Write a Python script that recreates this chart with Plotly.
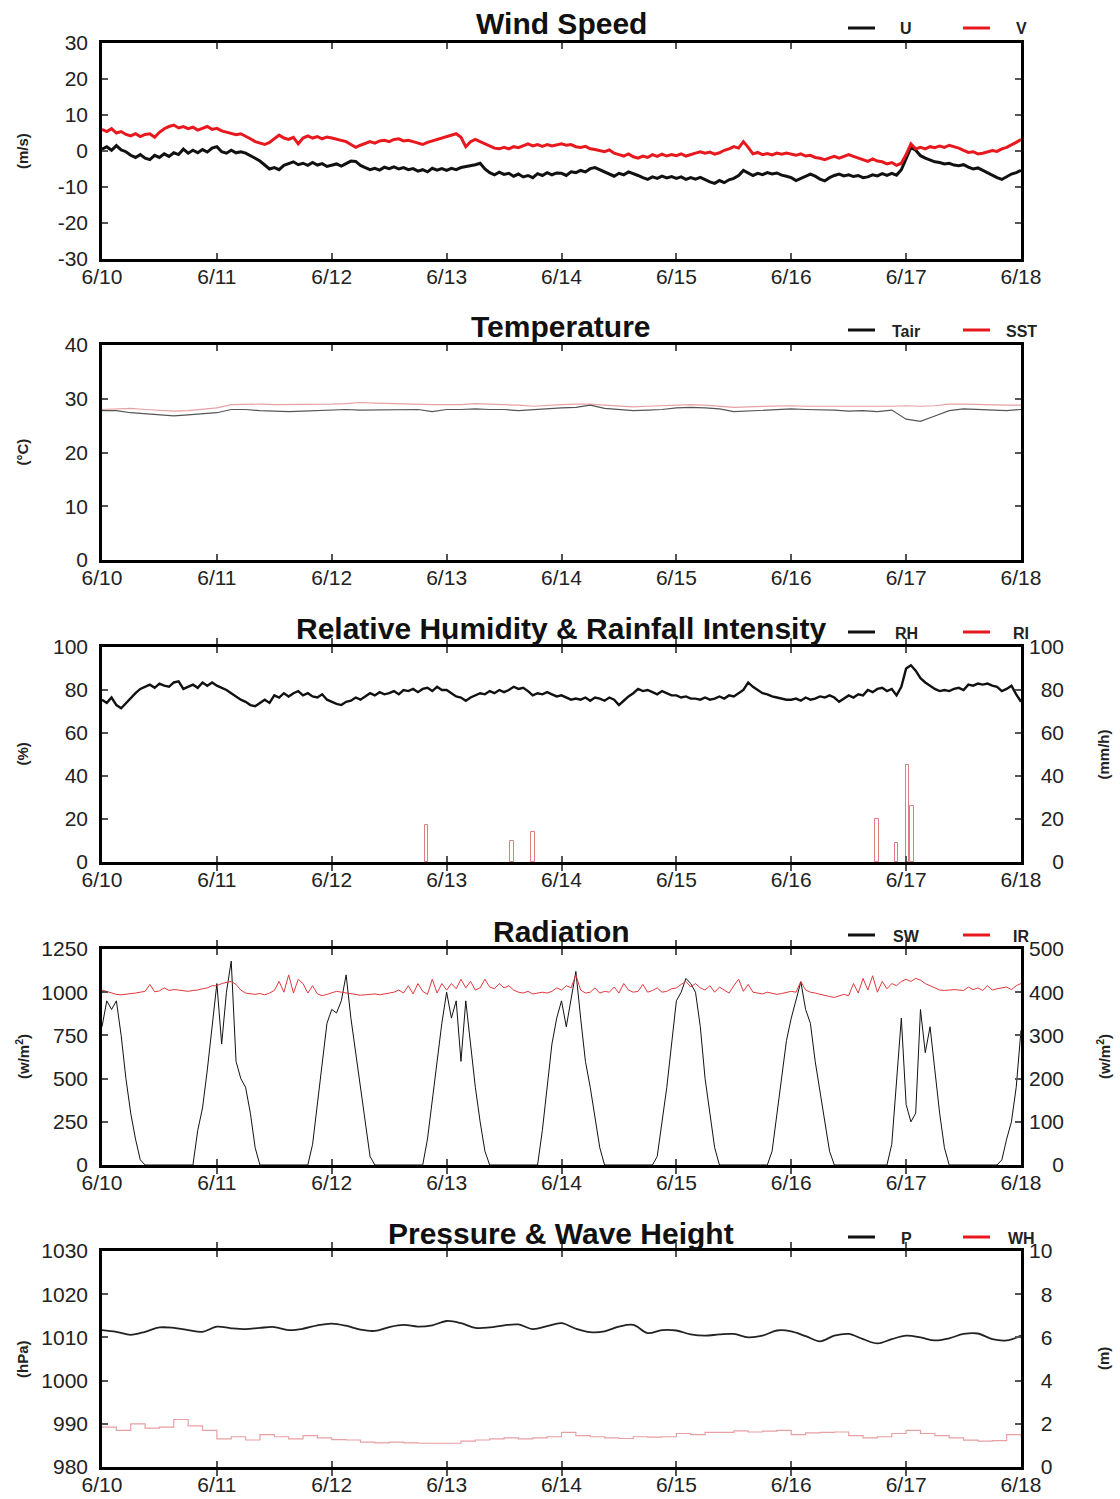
import plotly.graph_objects as go

# ---------------- data (hours since 6/10 00:00) ----------------
hours = list(range(0, 193))          # hourly series
hours3 = list(range(0, 193, 3))      # 3-hourly series
day_ticks = [0, 24, 48, 72, 96, 120, 144, 168, 192]
day_labels = ["6/10", "6/11", "6/12", "6/13", "6/14", "6/15", "6/16", "6/17", "6/18"]

U = [0.5, 1.2, 0.2, 1.5, 0.3, -0.2, -1.2, -1.8, -1.0, -2.0, -2.4, -1.2, -1.8, -0.8, -1.5, -0.5, -1.0, 0.5, -0.6, 0.2, -0.5, 0.4, -0.3, 0.8,
     1.2, -0.2, -0.6, 0.2, -0.5, -0.2, -0.6, -1.2, -2.0, -2.8, -4.0, -5.0, -4.6, -5.2, -4.0, -3.5, -3.0, -3.8, -3.4, -4.0, -3.2, -3.9, -3.5, -4.3,
     -4.0, -3.6, -4.2, -3.4, -2.8, -2.9, -4.0, -4.6, -5.2, -4.8, -5.3, -4.5, -4.9, -4.4, -5.0, -4.6, -5.2, -4.9, -5.6, -5.2, -5.8, -4.8, -5.3, -4.9,
     -5.4, -4.8, -5.2, -4.6, -4.4, -4.0, -3.8, -3.4, -5.0, -6.0, -6.6, -5.9, -6.5, -6.2, -7.0, -6.4, -7.2, -6.8, -7.4, -6.3, -6.8, -6.0, -6.6, -6.1,
     -6.2, -6.8, -5.8, -6.0, -5.4, -5.8, -4.9, -4.6, -5.2, -5.8, -6.4, -7.0, -6.2, -6.6, -5.8, -6.2, -6.8, -7.4, -7.9, -7.2, -7.6, -7.0, -7.5, -7.1,
     -7.6, -7.2, -7.9, -7.4, -7.8, -7.3, -8.0, -8.6, -9.0, -8.2, -8.8, -8.0, -7.6, -6.8, -5.4, -6.2, -6.8, -6.2, -6.6, -6.0, -6.4, -6.1, -6.7, -7.0,
     -7.4, -8.2, -7.6, -6.8, -6.4, -7.0, -7.8, -8.3, -7.4, -6.8, -6.4, -6.9, -6.6, -7.1, -6.8, -7.4, -7.2, -6.6, -6.9, -6.3, -6.8, -6.2, -6.7, -5.2,
     -2.0, 1.0, 0.2, -1.3, -2.0, -2.6, -3.0, -3.2, -3.6, -3.4, -3.9, -4.1, -3.8, -4.5, -5.0, -4.7, -5.4, -6.2, -6.8, -7.4, -7.9, -7.2, -6.4, -6.0, -5.4]

V = [6.0, 5.4, 6.2, 5.0, 5.4, 4.6, 4.2, 4.8, 4.0, 4.6, 4.8, 3.8, 5.2, 6.2, 6.8, 7.2, 6.4, 6.8, 6.2, 6.6, 5.8, 6.4, 6.8, 6.0,
     6.3, 5.6, 5.2, 4.8, 4.5, 4.8, 4.2, 3.4, 2.6, 2.2, 1.8, 2.4, 3.4, 4.4, 3.6, 3.2, 3.8, 2.0, 3.6, 4.2, 3.6, 4.0, 3.4, 3.9,
     3.6, 3.2, 3.0, 2.6, 1.8, 1.0, 1.6, 2.2, 2.6, 2.2, 2.8, 3.0, 2.6, 3.2, 3.4, 2.8, 3.0, 2.6, 2.2, 1.8, 2.4, 2.8, 3.2, 3.6,
     3.8, 4.4, 4.8, 3.8, 1.2, 2.6, 3.2, 2.6, 2.0, 1.4, 0.8, 0.6, 1.0, 0.6, 1.2, 0.9, 1.5, 2.0, 1.4, 1.8, 1.3, 1.8, 1.4, 1.7,
     2.0, 1.6, 1.8, 1.2, 1.0, 1.3, 0.6, 0.4, 0.2, -0.2, 0.3, -0.6, -1.0, -1.4, -0.8, -1.6, -2.0, -1.4, -1.8, -1.0, -1.5, -0.9, -1.4, -1.0,
     -1.3, -0.8, -1.4, -0.9, -0.6, -0.2, -0.6, -0.3, -0.9, -0.5, 0.2, 0.6, 1.2, 0.8, 2.6, 1.0, -0.8, -0.4, -1.0, -0.7, -1.1, -0.6, -0.9, -0.6,
     -0.9, -1.2, -0.8, -1.4, -1.2, -1.8, -2.0, -2.4, -1.9, -1.5, -2.0, -1.4, -1.0, -1.5, -2.0, -2.6, -2.9, -2.2, -2.8, -3.0, -3.6, -3.2, -4.0, -3.4,
     -1.0, 2.0, 0.6, 1.0, 0.6, 1.2, 0.9, 1.4, 1.0, 1.6, 1.3, 0.8, 0.2, -0.4, -0.2, -0.8, -0.6, -0.2, 0.1, -0.1, 0.6, 1.0, 1.6, 2.4, 3.2]

Tair = [27.8, 27.8, 27.4, 27.2, 27.0, 26.8, 27.0, 27.2, 27.4, 28.0, 28.0, 27.8, 27.7, 27.6, 27.7, 27.8,
        27.9, 28.0, 27.9, 27.9, 27.9, 28.0, 28.0, 27.6, 28.0, 28.0, 28.1, 28.0, 28.0, 27.8, 28.0, 28.2,
        28.3, 28.4, 28.8, 28.2, 28.0, 27.8, 27.9, 28.0, 28.3, 28.4, 28.3, 28.1, 27.6, 27.7, 27.9, 28.0,
        28.1, 28.0, 28.0, 27.9, 27.7, 27.8, 27.6, 27.9, 26.2, 25.8, 26.8, 27.8, 28.1, 28.0, 27.9, 27.8, 28.0]

SST = [28.0, 28.1, 28.2, 28.0, 27.8, 27.7, 27.8, 28.0, 28.3, 28.9, 29.0, 29.0, 28.9, 28.9, 28.9, 29.0,
       29.0, 29.1, 29.3, 29.2, 29.1, 29.0, 28.9, 28.9, 28.9, 28.9, 29.1, 29.0, 29.0, 28.8, 28.6, 28.8,
       28.9, 29.0, 29.0, 28.8, 28.6, 28.5, 28.6, 28.7, 28.8, 28.9, 28.8, 28.6, 28.4, 28.5, 28.6, 28.7,
       28.7, 28.6, 28.6, 28.6, 28.6, 28.5, 28.5, 28.6, 28.7, 28.6, 28.7, 29.0, 29.0, 28.9, 28.8, 28.8, 28.8]

RH = [75.5, 74.0, 76.5, 73.0, 71.5, 74.0, 76.5, 78.5, 80.5, 81.5, 82.5, 81.0, 83.0, 82.0, 81.5, 83.5, 84.0, 80.5, 81.5, 82.5, 81.0, 83.5, 82.0, 83.5,
      82.0, 81.0, 80.0, 78.5, 77.0, 75.5, 74.5, 73.0, 72.5, 74.0, 75.5, 74.0, 77.5, 76.5, 78.5, 77.0, 78.5, 79.5, 77.5, 78.5, 77.0, 76.5, 78.0, 75.5,
      74.5, 73.5, 73.0, 74.5, 75.0, 76.5, 75.5, 77.0, 78.5, 77.5, 79.0, 78.0, 78.5, 79.5, 78.0, 80.0, 79.5, 80.5, 79.0, 80.5, 81.0, 79.5, 81.5, 80.0,
      80.0, 78.5, 77.0, 76.5, 75.0, 76.5, 77.5, 78.5, 78.0, 79.5, 78.5, 80.0, 79.0, 80.0, 81.5, 80.5, 81.0, 79.5, 77.5, 78.5, 78.0, 79.0, 78.0, 77.0,
      77.5, 76.5, 75.5, 76.0, 75.5, 76.5, 75.0, 76.5, 76.0, 75.0, 76.5, 75.5, 73.0, 75.0, 77.0, 78.5, 80.5, 79.5, 80.0, 79.0, 78.0, 79.5, 78.5, 77.5,
      77.5, 76.5, 77.0, 76.0, 76.0, 75.5, 76.5, 75.5, 76.0, 77.0, 76.0, 77.5, 77.0, 78.5, 80.0, 83.5, 81.5, 80.0, 78.5, 78.0, 77.0, 76.5, 76.0, 75.5,
      75.5, 76.0, 75.0, 76.5, 75.5, 76.0, 77.0, 76.5, 77.5, 76.5, 74.5, 76.0, 77.5, 76.5, 78.0, 77.5, 80.0, 79.0, 80.5, 81.0, 79.5, 80.5, 77.5, 81.5,
      90.0, 91.5, 89.0, 85.5, 83.5, 82.0, 80.5, 79.5, 80.0, 79.5, 80.5, 81.0, 80.0, 82.5, 82.0, 83.0, 82.5, 83.0, 82.0, 81.5, 79.5, 80.5, 82.0, 78.0, 74.5]

RI_time = [67.8, 85.6, 90.0, 162.0, 166.0, 168.3, 169.3]
RI_value = [17, 10, 14, 20, 9, 45, 26]

SW = [800, 950, 900, 950, 750, 500, 300, 150, 30, 0, 0, 0, 0, 0, 0, 0, 0, 0, 0, 0, 200, 330, 550, 800,
      1050, 700, 1000, 1180, 600, 500, 450, 300, 100, 0, 0, 0, 0, 0, 0, 0, 0, 0, 0, 0, 120, 350, 600, 820,
      900, 880, 950, 1100, 850, 650, 420, 220, 50, 0, 0, 0, 0, 0, 0, 0, 0, 0, 0, 0, 150, 380, 620, 820,
      1000, 850, 950, 600, 950, 700, 450, 250, 80, 0, 0, 0, 0, 0, 0, 0, 0, 0, 0, 0, 200, 450, 700, 850,
      950, 800, 950, 1120, 850, 600, 450, 280, 100, 0, 0, 0, 0, 0, 0, 0, 0, 0, 0, 0, 50, 250, 450, 700,
      950, 1000, 1080, 1050, 1000, 800, 500, 300, 100, 0, 0, 0, 0, 0, 0, 0, 0, 0, 0, 0, 80, 300, 520, 720,
      850, 950, 1060, 900, 820, 600, 420, 250, 80, 0, 0, 0, 0, 0, 0, 0, 0, 0, 0, 0, 0, 120, 500, 850,
      350, 250, 300, 900, 650, 800, 550, 300, 100, 0, 0, 0, 0, 0, 0, 0, 0, 0, 0, 0, 30, 150, 250, 450, 780]

IR = [405, 402, 398, 395, 394, 395, 396, 398, 400, 402, 418, 401, 403, 410, 404, 406, 405, 403, 402, 404, 405, 408, 410, 415,
      415, 420, 422, 425, 418, 405, 398, 396, 395, 397, 394, 398, 404, 425, 400, 440, 398, 430, 420, 398, 415, 396, 392, 395,
      398, 402, 400, 398, 396, 395, 393, 394, 395, 396, 394, 396, 398, 400, 405, 398, 415, 396, 420, 402, 395, 430, 398, 420,
      405, 420, 408, 430, 410, 425, 405, 410, 430, 412, 408, 420, 410, 415, 405, 400, 398, 402, 396, 398, 400, 398, 402, 410,
      405, 415, 410, 440, 405, 398, 400, 410, 398, 402, 400, 412, 398, 420, 405, 400, 402, 418, 400, 404, 410, 400, 402, 408,
      410, 418, 425, 412, 420, 410, 405, 415, 400, 412, 405, 398, 415, 430, 402, 418, 400, 398, 396, 400, 398, 395, 397, 400,
      402, 400, 425, 405, 400, 398, 395, 392, 390, 388, 392, 395, 392, 420, 398, 432, 405, 438, 400, 425, 408, 420, 415, 425,
      430, 425, 432, 428, 420, 415, 410, 405, 404, 405, 406, 405, 404, 412, 406, 410, 404, 415, 405, 408, 410, 412, 406, 415, 420]

P = [1011.7, 1011.3, 1010.6, 1011.3, 1012.3, 1012.2, 1011.7, 1011.3, 1012.5, 1012.1, 1011.9, 1012.2, 1012.4, 1011.7, 1012.0, 1012.8,
     1013.2, 1012.7, 1011.8, 1011.5, 1012.4, 1012.9, 1012.5, 1012.8, 1013.8, 1013.3, 1012.2, 1012.3, 1012.8, 1013.0, 1011.9, 1012.6,
     1013.3, 1012.0, 1011.2, 1011.4, 1012.5, 1012.9, 1011.0, 1011.7, 1011.6, 1010.7, 1010.4, 1010.7, 1010.8, 1010.0, 1010.4, 1011.6,
     1011.4, 1010.3, 1009.1, 1010.4, 1010.8, 1009.6, 1008.6, 1009.6, 1010.4, 1010.0, 1009.3, 1009.8, 1010.8, 1010.9, 1009.6, 1009.3, 1010.4]

WH = [1.85, 1.7, 2.0, 1.8, 1.85, 2.2, 1.9, 1.7, 1.3, 1.4, 1.25, 1.5, 1.4, 1.3, 1.45, 1.35,
      1.27, 1.25, 1.15, 1.12, 1.15, 1.12, 1.1, 1.1, 1.1, 1.2, 1.25, 1.3, 1.35, 1.3, 1.35, 1.4,
      1.6, 1.45, 1.4, 1.35, 1.32, 1.4, 1.38, 1.4, 1.55, 1.5, 1.6, 1.6, 1.67, 1.62, 1.66, 1.7,
      1.5, 1.58, 1.6, 1.62, 1.45, 1.35, 1.4, 1.55, 1.7, 1.55, 1.45, 1.35, 1.24, 1.2, 1.22, 1.5, 1.4]

# tick values
y1_ticks = [-30, -20, -10, 0, 10, 20, 30]
y1_labels = ["-30", "-20", "-10", "0", "10", "20", "30"]
ri_ticks = [0, 20, 40, 60, 80, 100]
ir_ticks = [0, 100, 200, 300, 400, 500]
wh_ticks = [0, 2, 4, 6, 8, 10]

titles = ["Wind Speed", "Temperature", "Relative Humidity & Rainfall Intensity", "Radiation",
          "Pressure & Wave Height"]
legend_names = [("U", "V"), ("Tair", "SST"), ("RH", "RI"), ("SW", "IR"), ("P", "WH")]
left_labels = ["(m/s)", "(°C)", "(%)", "(w/m<sup>2</sup>)", "(hPa)"]
right_labels = [None, None, "(mm/h)", "(w/m<sup>2</sup>)", "(m)"]

# ---------------- styling ----------------
FONT = "Liberation Sans, Arial, Helvetica, sans-serif"
BLACK = "#111111"
RED = "#e8191e"
PINK = "#e8a0a4"
W, H = 1120, 1499
XL, XR = 102 / W, 1021 / W
NB = "\u00a0\u00a0"  # two no-break spaces = one digit width -> right-aligned labels

def py(px):
    return 1 - px / H

def right_aligned(ticks):
    width = max(len(str(t)) for t in ticks)
    return [NB * (width - len(str(t))) + str(t) for t in ticks]

panels = [(43, 259), (345, 560), (647, 862), (949, 1165), (1251, 1467)]

fig = go.Figure()

def line(x, y, color, width, name, xa, ya, shape="linear"):
    fig.add_trace(go.Scatter(x=x, y=y, mode="lines", line=dict(color=color, width=width, shape=shape),
                             name=name, xaxis=xa, yaxis=ya, showlegend=False, hoverinfo="skip"))

# Panel 1: wind
line(hours, U, BLACK, 3.0, "U", "x", "y")
line(hours, V, RED, 3.0, "V", "x", "y")

# Panel 2: temperature
line(hours3, SST, PINK, 1.2, "SST", "x2", "y2")
line(hours3, Tair, "#555555", 1.2, "Tair", "x2", "y2")

# Panel 3: RH & rain
line(hours, RH, BLACK, 2.4, "RH", "x3", "y3")
fig.add_trace(go.Bar(x=RI_time, y=RI_value, width=0.8, xaxis="x3", yaxis="y6", name="RI",
                     marker=dict(color="rgba(255,255,255,0)", line=dict(color="#e07c82", width=1)),
                     showlegend=False, hoverinfo="skip"))

# Panel 4: radiation
line(hours, IR, "#e0393e", 1.0, "IR", "x4", "y7")
line(hours, SW, BLACK, 1.0, "SW", "x4", "y4")

# Panel 5: pressure & wave height
line(hours3, P, "#222222", 1.8, "P", "x5", "y5", shape="spline")
line(hours3, WH, PINK, 1.2, "WH", "x5", "y8", shape="hv")

tickfont = dict(family=FONT, size=21, color="#222222")
common_axis = dict(showline=True, linecolor="black", linewidth=2.5, ticks="inside", ticklen=6,
                   tickwidth=1.5, tickcolor="#555555", showgrid=False, zeroline=False,
                   tickfont=tickfont, fixedrange=True, automargin=False)

xnames = ["xaxis", "xaxis2", "xaxis3", "xaxis4", "xaxis5"]
ynames = ["yaxis", "yaxis2", "yaxis3", "yaxis4", "yaxis5"]
yanchors = ["y", "y2", "y3", "y4", "y5"]
xanchors = ["x", "x2", "x3", "x4", "x5"]
yranges = [[-30, 30], [0, 40], [0, 100], [0, 1250], [980, 1030]]
ydticks = [10, 10, 20, 250, 10]

layout = dict(width=W, height=H, margin=dict(l=0, r=0, t=0, b=0, autoexpand=False),
              paper_bgcolor="white", plot_bgcolor="white", bargap=0, showlegend=False,
              font=dict(family=FONT, color="#222222"))

for i, (top, bot) in enumerate(panels):
    dom = [py(bot), py(top)]
    layout[xnames[i]] = dict(common_axis, domain=[XL, XR], range=[0, 192], anchor=yanchors[i],
                             tickvals=day_ticks, ticktext=day_labels, mirror="allticks",
                             ticklabelstandoff=-3)
    ycfg = dict(common_axis, domain=dom, range=yranges[i], anchor=xanchors[i],
                mirror="allticks", ticklabelstandoff=7)
    if i == 0:
        ycfg.update(tickvals=y1_ticks, ticktext=y1_labels)
    else:
        ycfg.update(dtick=ydticks[i], tick0=yranges[i][0])
    layout[ynames[i]] = ycfg

# secondary right axes (labels right-aligned as in the original)
sec = [("yaxis6", "y3", "x3", [0, 100], ri_ticks), ("yaxis7", "y4", "x4", [0, 500], ir_ticks),
       ("yaxis8", "y5", "x5", [0, 10], wh_ticks)]
for name, over, anch, rng, tv in sec:
    layout[name] = dict(overlaying=over, anchor=anch, side="right", range=rng,
                        tickvals=tv, ticktext=right_aligned(tv),
                        ticks="", showline=False, showgrid=False, zeroline=False,
                        tickfont=tickfont, fixedrange=True, ticklabelstandoff=7, automargin=False)

fig.update_layout(**layout)

# titles, legend keys and axis labels
title_y = [24, 326, 628, 931, 1233]
leg_y = [28, 330, 632, 935, 1237]
for i, (top, bot) in enumerate(panels):
    fig.add_annotation(text=f"<b>{titles[i]}</b>", x=561 / W, y=py(title_y[i]), xref="paper",
                       yref="paper", showarrow=False, font=dict(family=FONT, size=30, color="#111111"),
                       xanchor="center", yanchor="middle")
    for (x0, x1, xt), name, col in zip([(848, 875, 906), (963, 990, 1021)], legend_names[i],
                                       [BLACK, RED]):
        fig.add_shape(type="line", xref="paper", yref="paper", x0=x0 / W, x1=x1 / W,
                      y0=py(leg_y[i]), y1=py(leg_y[i]), line=dict(color=col, width=3))
        fig.add_annotation(text=f"<b>{name}</b>", x=xt / W, y=py(leg_y[i] + 1), xref="paper",
                           yref="paper", showarrow=False,
                           font=dict(family=FONT, size=16, color="#222222"),
                           xanchor="center", yanchor="middle")
    fig.add_annotation(text=f"<b>{left_labels[i]}</b>", x=22 / W, y=py((top + bot) / 2),
                       xref="paper", yref="paper", showarrow=False, textangle=-90,
                       font=dict(family=FONT, size=15, color="#222222"),
                       xanchor="center", yanchor="middle")
    if right_labels[i]:
        fig.add_annotation(text=f"<b>{right_labels[i]}</b>", x=1103 / W, y=py((top + bot) / 2),
                           xref="paper", yref="paper", showarrow=False, textangle=-90,
                           font=dict(family=FONT, size=15, color="#222222"),
                           xanchor="center", yanchor="middle")

fig.write_html("out.html")
